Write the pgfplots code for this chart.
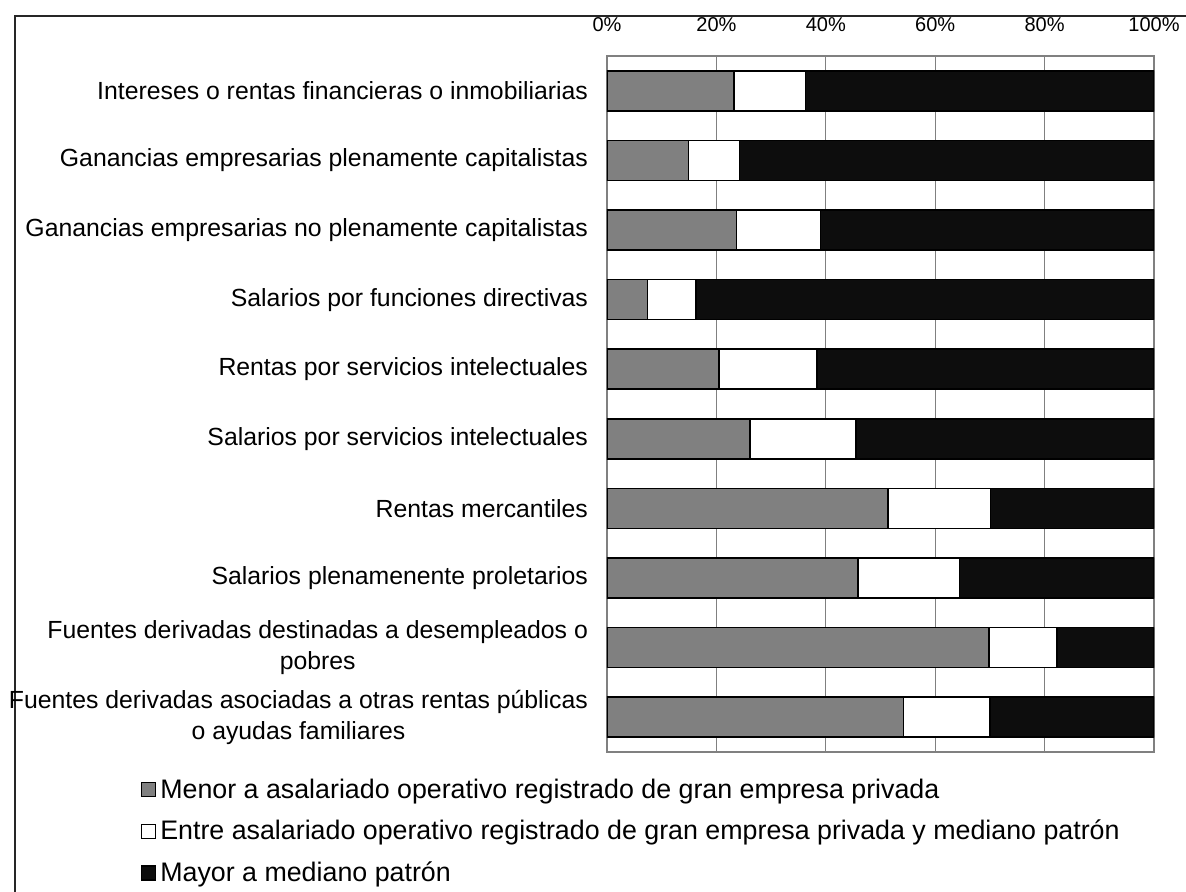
\documentclass[border=0pt]{standalone}
\usepackage{pgfplots}
\pgfplotsset{compat=1.18}
\usepackage{fontspec}
\setmainfont{Liberation Sans}

\definecolor{barGray}{HTML}{808080}
\definecolor{barBlack}{HTML}{0D0D0D}
\definecolor{gridGray}{HTML}{808080}

\begin{document}
\begin{tikzpicture}
\useasboundingbox (-303.5pt,-69.5pt) rectangle (289.5pt,376pt);
% frame of the original sheet (left and top edges only)
\draw[line width=0.6pt, black!85] (-296pt,-80pt) -- (-296pt,368pt) -- (300pt,368pt);
\begin{axis}[
    at={(0,0)}, anchor=south west,
    scale only axis,
    width=273.5pt, height=348pt,
    xbar stacked,
    bar width=0.575,
    xmin=0, xmax=100,
    ymin=-0.5, ymax=9.5,
    xtick={0,20,...,100},
    xticklabel={\pgfmathprintnumber{\tick}\%},
    xticklabel pos=upper,
    xticklabel style={font=\fontsize{10}{12}\selectfont, anchor=base, yshift=12pt},
    ytick={0,...,9},
    yticklabels={
        {Fuentes derivadas asociadas a otras rentas públicas\\o ayudas familiares},
        {Fuentes derivadas destinadas a desempleados o\\pobres},
        {Salarios plenamenente proletarios},
        {Rentas mercantiles},
        {Salarios por servicios intelectuales},
        {Rentas por servicios intelectuales},
        {Salarios por funciones directivas},
        {Ganancias empresarias no plenamente capitalistas},
        {Ganancias empresarias plenamente capitalistas},
        {Intereses o rentas financieras o inmobiliarias}},
    yticklabel style={align=center, font=\fontsize{12.4}{15.3}\selectfont, xshift=-6pt},
    major tick length=0pt,
    xmajorgrids,
    grid style={gridGray, line width=0.5pt},
    axis line style={gridGray, line width=0.6pt},
    /pgf/number format/assume math mode=true,
    legend style={
        at={(-0.853,-0.032)},
        anchor=north west,
        draw=none, fill=none,
        inner sep=0pt,
        row sep=5.5pt,
        font=\fontsize{13.4}{16}\selectfont
    },
    legend cell align=left,
    legend image code/.code={
        \draw [#1] (3pt,-3.4pt) rectangle (10pt,3.6pt); },
    ]
\addplot[fill=barGray, draw=black, line width=0.75pt] coordinates { % menor
(54.2,0) (69.8,1) (45.9,2) (51.4,3) (26.1,4)
(20.5,5) (7.4,6) (23.7,7) (14.9,8) (23.2,9)
} ;
\addplot[fill=white, draw=black, line width=0.75pt] coordinates { % entre
(15.8,0) (12.5,1) (18.5,2) (18.7,3) (19.4,4)
(17.9,5) (8.9,6) (15.3,7) (9.3,8) (13.1,9)
} ;
\addplot[fill=barBlack, draw=black, line width=0.75pt] coordinates { % mayor
(30.0,0) (17.7,1) (35.6,2) (29.9,3) (54.5,4)
(61.6,5) (83.7,6) (61.0,7) (75.8,8) (63.7,9)
} ;
\legend{Menor a asalariado operativo registrado de gran empresa privada,
        Entre asalariado operativo registrado de gran empresa privada y mediano patrón,
        Mayor a mediano patrón}
\end{axis}
\end{tikzpicture}
\end{document}
